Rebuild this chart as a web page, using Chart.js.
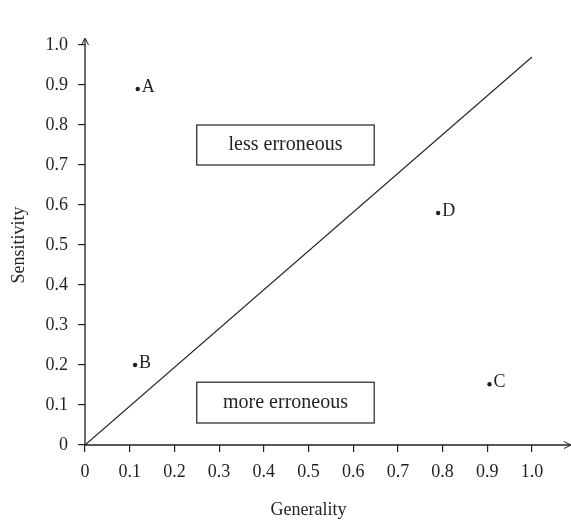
<!DOCTYPE html>
<html>
<head>
<meta charset="utf-8">
<script src="https://cdn.jsdelivr.net/npm/chart.js@4"></script>
<style>
html,body{margin:0;padding:0;background:#fff}
#wrap{width:571px;height:525px}
</style>
</head>
<body>
<div id="wrap"><canvas id="c"></canvas></div>
<script>
// DATA
const pointNames=["A","B","C","D"]
const generality=[0.118,0.112,0.905,0.79]
const sensitivity=[0.89,0.2,0.152,0.58]
const diagX=[0,1.0]
const diagY=[0,0.97]
const tickValues=[0,0.1,0.2,0.3,0.4,0.5,0.6,0.7,0.8,0.9,1.0]
const regionText=["less erroneous","more erroneous"]
const regionX=[[0.25,0.647],[0.25,0.647]]
const regionY=[[0.70,0.80],[0.055,0.157]]

const FONT="'Liberation Serif', 'DejaVu Serif', serif"
const INK="#231f20"

const pts=pointNames.map((n,k)=>({x:generality[k],y:sensitivity[k]}))
const diag=diagX.map((x,k)=>({x:x,y:diagY[k]}))

// axes with arrows, point letters, boxed notes
const extras={
id:"extras",
afterDatasetsDraw(chart){
const ctx=chart.ctx
const xs=chart.scales.x, ys=chart.scales.y
const x0=xs.getPixelForValue(0), y0=ys.getPixelForValue(0)
ctx.save()
ctx.strokeStyle=INK
ctx.lineWidth=1.3
ctx.beginPath()
ctx.moveTo(x0,y0)
ctx.lineTo(x0,chart.chartArea.top-6)
ctx.moveTo(x0,y0)
ctx.lineTo(chart.chartArea.right+38,y0)
ctx.stroke()
// arrow heads
ctx.lineWidth=1
ctx.beginPath()
ctx.moveTo(x0-3.5,chart.chartArea.top)
ctx.lineTo(x0,chart.chartArea.top-7)
ctx.lineTo(x0+3.5,chart.chartArea.top)
ctx.moveTo(chart.chartArea.right+32,y0-3.5)
ctx.lineTo(chart.chartArea.right+39,y0)
ctx.lineTo(chart.chartArea.right+32,y0+3.5)
ctx.stroke()

// letters
ctx.fillStyle=INK
ctx.font="18px "+FONT
ctx.textAlign="left"
ctx.textBaseline="middle"
pts.forEach((p,k)=>{
ctx.fillText(pointNames[k],xs.getPixelForValue(p.x)+4,ys.getPixelForValue(p.y)-2)
})

// boxes
ctx.font="20px "+FONT
ctx.textAlign="center"
ctx.lineWidth=1.2
regionText.forEach((t,k)=>{
const l=xs.getPixelForValue(regionX[k][0]), r=xs.getPixelForValue(regionX[k][1])
const top=ys.getPixelForValue(regionY[k][1]), bot=ys.getPixelForValue(regionY[k][0])
ctx.strokeRect(l,top,r-l,bot-top)
ctx.fillText(t,(l+r)/2,(top+bot)/2)
})
ctx.restore()
}
}

new Chart(document.getElementById("c"),{
type:"scatter",
data:{
datasets:[
{data:pts,pointRadius:2.2,pointHoverRadius:2.2,backgroundColor:INK,borderColor:INK,borderWidth:0},
{type:"line",data:diag,borderColor:INK,borderWidth:1.2,pointRadius:0,fill:false,tension:0}
]
},
options:{
responsive:true,
maintainAspectRatio:false,
animation:false,
layout:{padding:{top:45,right:39,left:0,bottom:0}},
plugins:{legend:{display:false},tooltip:{enabled:false}},
scales:{
x:{
type:"linear",min:0,max:1.0,
afterBuildTicks(s){s.ticks=tickValues.map(v=>({value:v}))},
afterFit(s){s.height=80},
border:{display:false},
grid:{drawOnChartArea:false,drawTicks:true,tickLength:7,color:INK,lineWidth:1.2},
ticks:{color:INK,font:{family:FONT,size:18},padding:9,maxRotation:0,
callback:v=>v===0?"0":v.toFixed(1)},
title:{display:true,text:"Generality",color:INK,font:{family:FONT,size:18},padding:{top:10}}
},
y:{
type:"linear",min:0,max:1.0,
afterBuildTicks(s){s.ticks=tickValues.map(v=>({value:v}))},
afterFit(s){s.width=85},
border:{display:false},
grid:{drawOnChartArea:false,drawTicks:true,tickLength:7,color:INK,lineWidth:1.2},
ticks:{color:INK,font:{family:FONT,size:18},padding:10,
callback:v=>v===0?"0":v.toFixed(1)},
title:{display:true,text:"Sensitivity",color:INK,font:{family:FONT,size:18},padding:{top:8,bottom:0}}
}
}
},
plugins:[extras]
})
</script>
</body>
</html>
